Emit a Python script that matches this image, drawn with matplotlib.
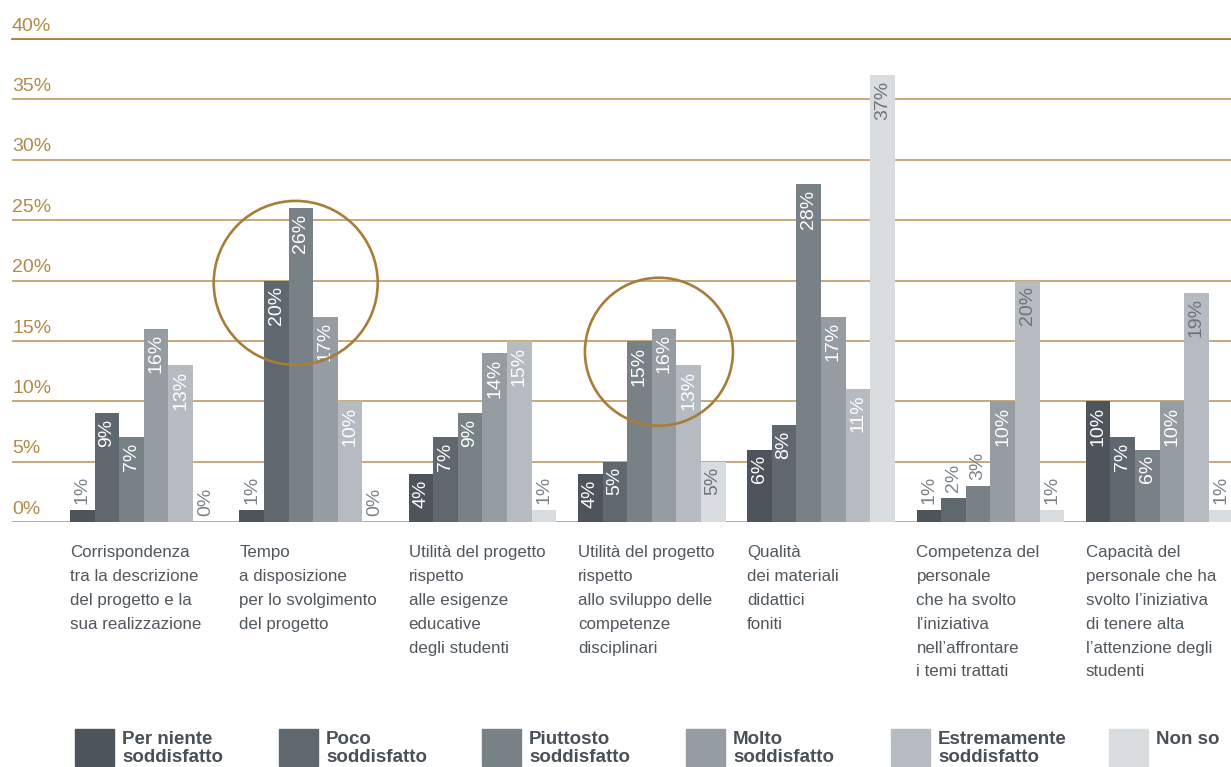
import matplotlib
matplotlib.use('Agg')
import matplotlib.pyplot as plt
from matplotlib.patches import Ellipse, Rectangle
import numpy as np

plt.rcParams['font.family'] = ['Liberation Sans', 'DejaVu Sans']

# Dati: percentuali per domanda e livello di soddisfazione
categorie = [
    "Corrispondenza\ntra la descrizione\ndel progetto e la\nsua realizzazione",
    "Tempo\na disposizione\nper lo svolgimento\ndel progetto",
    "Utilità del progetto\nrispetto\nalle esigenze\neducative\ndegli studenti",
    "Utilità del progetto\nrispetto\nallo sviluppo delle\ncompetenze\ndisciplinari",
    "Qualità\ndei materiali\ndidattici\nfoniti",
    "Competenza del\npersonale\nche ha svolto\nl\u2019iniziativa\nnell\u2019affrontare\ni temi trattati",
    "Capacità del\npersonale che ha\nsvolto l\u2019iniziativa\ndi tenere alta\nl\u2019attenzione degli\nstudenti",
]
serie = [
    "Per niente\nsoddisfatto",
    "Poco\nsoddisfatto",
    "Piuttosto\nsoddisfatto",
    "Molto\nsoddisfatto",
    "Estremamente\nsoddisfatto",
    "Non so",
]
per_niente = [1, 1, 4, 4, 6, 1, 10]
poco = [9, 20, 7, 5, 8, 2, 7]
piuttosto = [7, 26, 9, 15, 28, 3, 6]
molto = [16, 17, 14, 16, 17, 10, 10]
estremamente = [13, 10, 15, 13, 11, 20, 19]
non_so = [0, 0, 1, 5, 37, 1, 1]
valori = [per_niente, poco, piuttosto, molto, estremamente, non_so]
tick_y = [0, 5, 10, 15, 20, 25, 30, 35, 40]

colori = ['#4d545b', '#5f686e', '#788186', '#959ca2', '#b5bbc0', '#d8dcdf']
oro = '#c2a26e'
oro_scuro = '#a87d3a'
grigio_testo = '#7b8389'

fig = plt.figure(figsize=(12.31, 7.67), dpi=100)
W, H = 1231, 767
ax = fig.add_axes([12 / W, (H - 522) / H, (W - 12) / W, (522 - 39) / H])

passo = 169.3            # pixel per gruppo
w = 24.6 / passo         # larghezza barra in unità di gruppo
x0 = np.arange(len(categorie))

for j, (vals, col) in enumerate(zip(valori, colori)):
    xs = x0 + j * w
    ax.bar(xs, vals, width=w, align='edge', color=col, zorder=2)
    for i, (x, v) in enumerate(zip(xs, vals)):
        xc = x + w / 2
        if v >= 4:
            chiaro = j == 5 or (j == 4 and i >= 5)
            ax.annotate(f"{v}%", xy=(xc, v), xytext=(0, -4), textcoords='offset points',
                        rotation=90, ha='center', va='top', fontsize=14,
                        color='#6d7479' if chiaro else 'white', zorder=3)
        else:
            ax.annotate(f"{v}%", xy=(xc, v), xytext=(0, 4), textcoords='offset points',
                        rotation=90, ha='center', va='bottom', fontsize=14,
                        color=grigio_testo, zorder=3)

ax.set_xlim((12 - 70) / passo, (W - 70) / passo)
ax.set_ylim(0, 40)
ax.set_yticks(tick_y)
ax.set_xticks([])
ax.tick_params(left=False, labelleft=False)
for s in ax.spines.values():
    s.set_visible(False)
ax.set_axisbelow(True)
ax.grid(axis='y', color=oro, linewidth=1.3)
ax.axhline(40, color=oro_scuro, linewidth=1.3, clip_on=False, zorder=1)

for t in tick_y:
    ax.annotate(f"{t}%", xy=(0, t), xycoords=('axes fraction', 'data'),
                xytext=(0, 6), textcoords='offset points', va='baseline', ha='left',
                fontsize=14, color='#b08a4a')

# cerchi di evidenziazione (gruppo, serie, livello, raggio in pixel)
px_y = (522 - 39) / 40
for g, s, livello, r in [(1, 2, 19.8, 82), (3, 3, 14.1, 74)]:
    ax.add_patch(Ellipse((g + (s + 0.5) * w - 0.03, livello), 2 * r / passo, 2 * r / px_y,
                         fill=False, edgecolor=oro_scuro, linewidth=1.9, zorder=4,
                         clip_on=False))

# etichette delle categorie sotto i gruppi
for i, testo in enumerate(categorie):
    xp = 70 + i * passo
    fig.text(xp / W, (H - 545) / H, testo, ha='left', va='top', fontsize=12.2,
             color='#50575d', linespacing=1.74)

# legenda
leg_x = [122, 326, 529, 733, 938, 1156]
for xt, nome, col in zip(leg_x, serie, colori):
    fig.patches.append(Rectangle(((xt - 47) / W, (H - 766) / H), 39 / W, 37 / H,
                                 transform=fig.transFigure, color=col))
    fig.text(xt / W, (H - 731) / H, nome, ha='left', va='top', fontsize=13.5,
             fontweight='bold', color='#4a5058', linespacing=1.1)

plt.savefig('out.png', dpi=100)
